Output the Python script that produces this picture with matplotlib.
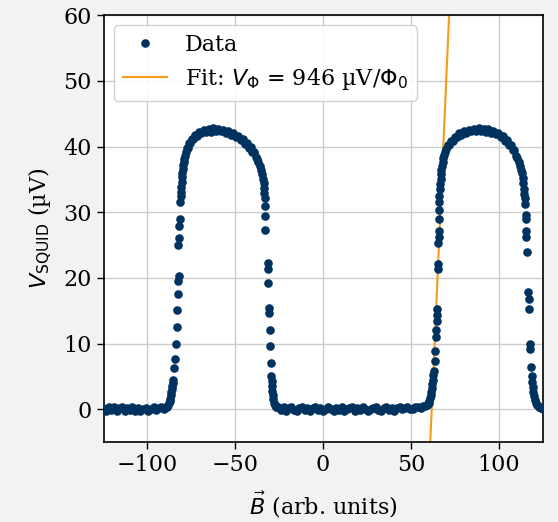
import numpy as np
import matplotlib
matplotlib.use("Agg")
import matplotlib.pyplot as plt

plt.rcParams['font.family'] = ['DejaVu Serif']
plt.rcParams['mathtext.fontset'] = 'dejavusans'
plt.rcParams['font.size'] = 16

# measured points, split by segment of the curve (B in arb. units, V in uV)
flat_left_x = [-125.0, -123.5, -122.0, -120.5, -119.0, -117.5, -116.0, -114.5, -113.0, -111.5,
               -110.0, -108.5, -107.0, -105.5, -104.0, -102.5, -101.0, -99.5, -98.0, -96.5,
               -95.0, -93.5, -92.0, -90.5, -89.3]
flat_left_y = [0.2, -0.2, 0.3, -0.1, 0.3, -0.2, 0.2, 0.3, -0.2, 0.2,
               -0.1, 0.3, -0.2, 0.2, -0.3, 0.1, 0.2, -0.2, 0.0, 0.3,
               -0.1, 0.2, 0.3, 0.0, 0.3]

rise_left_x = [-88.8, -88.3, -87.8, -87.4, -87.0, -86.6, -86.3, -86.0, -85.8, -85.6,
               -85.4, -84.6, -84.3, -83.6, -83.4, -83.0, -82.8, -82.3, -82.2, -82.3,
               -82.0, -81.8, -81.7, -81.2, -81.0, -80.9]
rise_left_y = [0.4, 0.6, 0.9, 1.2, 1.6, 2.1, 2.6, 3.1, 3.6, 4.0,
               4.5, 6.3, 7.7, 10.0, 12.5, 15.1, 17.6, 19.5, 20.3, 25.0,
               26.1, 27.9, 29.0, 31.6, 32.5, 33.1]

dome_left_x = [-80.7, -80.5, -80.3, -80.1, -79.8, -79.5, -79.2, -78.9, -78.5, -78.0,
               -77.5, -77.0, -76.3, -75.5, -74.7, -73.8, -72.8, -71.8, -70.6, -69.4,
               -68.0, -66.6, -65.2, -63.8, -62.4, -61.0, -59.6, -58.2, -56.8, -55.4,
               -54.0, -52.6, -51.2, -49.8, -48.4, -47.0, -45.8, -44.6, -43.4, -42.3,
               -41.2, -40.2, -39.3, -38.4, -37.6, -36.8, -36.1, -35.4, -34.8, -34.3,
               -33.9]
dome_left_y = [33.9, 34.6, 35.3, 35.9, 36.6, 37.2, 37.6, 38.1, 38.6, 39.1,
               39.7, 39.7, 40.5, 40.5, 41.2, 41.1, 41.8, 41.6, 42.2, 42.0,
               42.5, 42.2, 42.7, 42.2, 42.8, 42.3, 42.6, 42.3, 42.5, 42.1,
               42.3, 41.8, 42.0, 41.5, 41.6, 41.0, 41.1, 40.4, 40.5, 39.8,
               39.9, 39.2, 39.2, 38.4, 38.1, 37.6, 37.0, 36.4, 35.8, 35.1,
               34.4]

fall_left_x = [-33.6, -33.5, -33.3, -33.1, -32.8, -32.8, -31.6, -31.5, -31.2, -30.7,
               -30.6, -30.3, -30.2, -29.9, -29.5, -29.3, -29.1, -28.9, -28.7, -28.4,
               -28.0, -27.5, -27.0, -26.4]
fall_left_y = [33.7, 33.0, 32.2, 31.0, 29.4, 27.3, 22.3, 21.4, 19.3, 15.4,
               14.6, 12.0, 9.6, 7.0, 5.0, 4.3, 3.6, 2.8, 2.1, 1.5,
               1.0, 0.6, 0.4, 0.3]

flat_mid_x = [-25.5, -24.0, -22.5, -21.0, -19.5, -18.0, -16.5, -15.0, -13.5, -12.0,
              -10.5, -9.0, -7.5, -6.0, -4.5, -3.0, -1.5, 0.0, 1.5, 3.0,
              4.5, 6.0, 7.5, 9.0, 10.5, 12.0, 13.5, 15.0, 16.5, 18.0,
              19.5, 21.0, 22.5, 24.0, 25.5, 27.0, 28.5, 30.0, 31.5, 33.0,
              34.5, 36.0, 37.5, 39.0, 40.5, 42.0, 43.5, 45.0, 46.5, 48.0,
              49.5, 51.0, 52.5, 54.0, 55.5, 57.0]
flat_mid_y = [0.3, -0.1, 0.3, -0.2, 0.2, 0.3, -0.1, -0.2, 0.2, 0.3,
              -0.1, 0.2, -0.2, 0.2, 0.3, -0.1, 0.2, -0.2, 0.1, 0.3,
              0.0, -0.2, 0.2, -0.1, 0.3, -0.2, 0.1, 0.2, 0.3, -0.2,
              0.2, -0.1, 0.3, 0.1, -0.2, 0.0, 0.2, 0.3, -0.1, -0.2,
              0.2, 0.3, -0.1, 0.2, -0.2, 0.2, 0.3, 0.0, 0.2, 0.3,
              0.1, 0.0, 0.3, 0.3, 0.2, 0.5]

rise_right_x = [58.2, 58.9, 59.5, 60.0, 60.5, 60.9, 61.3, 61.6, 61.9, 62.2,
                62.5, 62.8, 63.2, 63.6, 63.7, 64.0, 64.1, 64.6, 64.7, 64.8,
                65.2, 65.3, 65.6, 65.7, 65.7, 65.8, 65.9, 66.0, 66.2, 66.4]
rise_right_y = [0.5, 0.6, 0.8, 1.0, 1.3, 1.7, 2.2, 2.7, 3.3, 3.9,
                4.5, 5.2, 5.8, 7.4, 8.8, 11.0, 12.0, 13.5, 14.4, 15.2,
                21.4, 22.1, 25.3, 26.2, 27.2, 28.9, 30.4, 31.5, 32.5, 33.5]

dome_right_x = [66.6, 66.8, 67.0, 67.3, 67.6, 68.0, 68.4, 68.9, 69.5, 70.2,
                71.0, 71.8, 72.7, 73.7, 74.8, 76.0, 77.3, 78.7, 80.1, 81.5,
                82.9, 84.3, 85.7, 87.1, 88.5, 89.9, 91.3, 92.7, 94.1, 95.5,
                96.9, 98.3, 99.7, 101.0, 102.3, 103.5, 104.7, 105.8, 106.8, 107.8,
                108.7, 109.6, 110.4, 111.2, 111.9, 112.5, 113.0, 113.5, 113.9]
dome_right_y = [34.3, 35.1, 35.8, 36.5, 37.1, 37.7, 38.2, 38.7, 39.2, 39.6,
                40.2, 40.2, 40.9, 40.8, 41.5, 41.4, 42.0, 41.8, 42.3, 42.1,
                42.5, 42.3, 42.6, 42.3, 42.8, 42.3, 42.7, 42.2, 42.6, 42.1,
                42.4, 41.9, 42.1, 41.5, 41.6, 40.9, 41.0, 40.3, 40.3, 39.5,
                39.5, 38.6, 38.3, 37.7, 37.1, 36.5, 35.9, 35.2, 34.5]

fall_right_x = [114.2, 114.4, 114.6, 114.8, 115.2, 115.4, 115.6, 115.7, 116.3, 116.8,
                117.0, 117.3, 117.8, 117.9, 118.3, 118.7, 119.0, 119.3, 119.6, 120.0,
                120.5, 121.1, 121.8, 122.6, 123.4, 124.2, 125.0]
fall_right_y = [33.6, 32.8, 32.1, 31.3, 29.5, 28.9, 27.2, 26.2, 23.9, 17.8,
                16.8, 15.2, 10.0, 9.2, 6.4, 5.0, 4.2, 3.4, 2.7, 2.0,
                1.4, 0.9, 0.6, 0.4, 0.3, 0.2, 0.1]

# linear fit on the steep flank
fit_slope = 6.07    # uV per arb. unit
fit_x0 = 61.8       # zero crossing
fit_range = [60.0, 73.0]

B = np.concatenate([flat_left_x, rise_left_x, dome_left_x, fall_left_x,
                    flat_mid_x, rise_right_x, dome_right_x, fall_right_x])
V = np.concatenate([flat_left_y, rise_left_y, dome_left_y, fall_left_y,
                    flat_mid_y, rise_right_y, dome_right_y, fall_right_y])

dot_color = '#00325f'
fit_color = '#f59c1a'

fig = plt.figure(figsize=(5.58, 5.22), dpi=100, facecolor='#f2f2f2')
ax = fig.add_axes([0.186, 0.153, 0.788, 0.818])
ax.set_facecolor('white')

ax.plot(B, V, 'o', color=dot_color, markersize=6.2, markeredgewidth=0,
        label='Data', zorder=3)
xf = np.array(fit_range)
ax.plot(xf, fit_slope * (xf - fit_x0), '-', color=fit_color, lw=1.5,
        label=r'Fit: $V_\Phi$ = 946 µV/$\Phi_0$', zorder=2)

ax.set_xlim(-124.8, 125.4)
ax.set_ylim(-5, 60)
ax.set_xticks([-100, -50, 0, 50, 100])
ax.set_yticks([0, 10, 20, 30, 40, 50, 60])
ax.grid(True, color='#cccccc', lw=1.0)
ax.set_axisbelow(True)
for s in ax.spines.values():
    s.set_linewidth(1.2)
ax.tick_params(width=1.0, length=5)

ax.set_xlabel(r'$\vec{B}$ (arb. units)', labelpad=10)
ax.set_ylabel(r'$V_{\rm SQUID}$ (µV)', labelpad=7)

leg = ax.legend(loc='upper left', fontsize=16, framealpha=0.9,
                borderaxespad=0.45, handlelength=2.0, borderpad=0.4,
                labelspacing=0.45)
leg.get_frame().set_edgecolor('#cccccc')

fig.savefig('out.png', dpi=100, facecolor=fig.get_facecolor())
